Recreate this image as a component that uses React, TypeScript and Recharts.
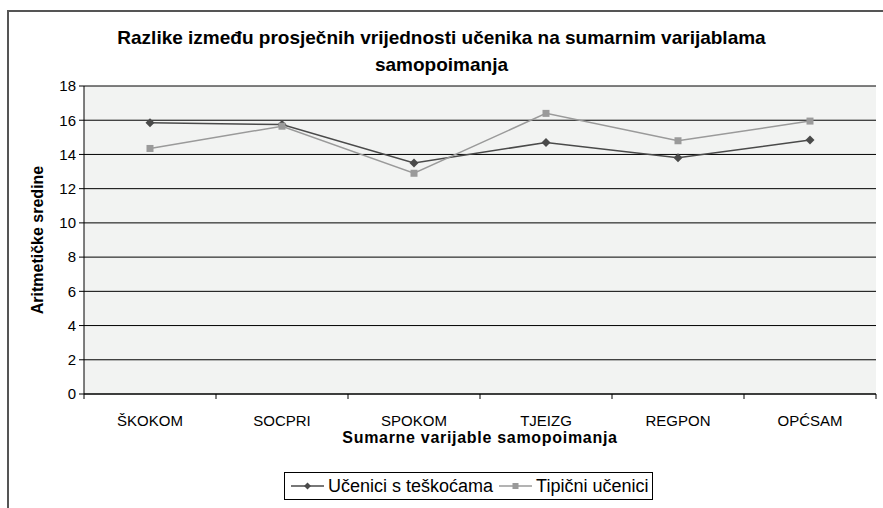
import React from "react";
import {
  LineChart,
  Line,
  XAxis,
  YAxis,
  CartesianGrid,
  Legend,
  Label,
} from "recharts";

const categories = ["ŠKOKOM", "SOCPRI", "SPOKOM", "TJEIZG", "REGPON", "OPĆSAM"];
const ucenicisTeskocama = [15.85, 15.75, 13.5, 14.7, 13.8, 14.85];
const tipicniUcenici = [14.35, 15.65, 12.9, 16.4, 14.8, 15.95];
const yTicks = [0, 2, 4, 6, 8, 10, 12, 14, 16, 18];

const SERIES1 = "Učenici s teškoćama";
const SERIES2 = "Tipični učenici";
const COLOR1 = "#4a4a4a";
const COLOR2 = "#9a9a9a";
const FONT = "'Liberation Sans', Arial, sans-serif";

const data = categories.map((name, i) => ({
  name,
  s1: ucenicisTeskocama[i],
  s2: tipicniUcenici[i],
}));

const Diamond = (props: any) => {
  const { cx, cy } = props;
  if (cx == null || cy == null) return null;
  return (
    <polygon
      points={`${cx},${cy - 4.5} ${cx + 4.5},${cy} ${cx},${cy + 4.5} ${cx - 4.5},${cy}`}
      fill={COLOR1}
    />
  );
};

const Square = (props: any) => {
  const { cx, cy } = props;
  if (cx == null || cy == null) return null;
  return <rect x={cx - 3.5} y={cy - 3.5} width={7} height={7} fill={COLOR2} />;
};

// category label + tick marks on the band boundaries (Excel style)
const XTick = (props: any) => {
  const { x, y, payload, index } = props;
  const off = payload.offset || 0;
  const axisY = y - 21;
  return (
    <g>
      <line x1={x - off} y1={axisY} x2={x - off} y2={axisY + 5} stroke="#000" />
      {index === categories.length - 1 && (
        <line x1={x + off} y1={axisY} x2={x + off} y2={axisY + 5} stroke="#000" />
      )}
      <text
        x={x}
        y={y}
        dy="0.71em"
        textAnchor="middle"
        fontSize={15}
        fontFamily={FONT}
        fill="#000"
      >
        {payload.value}
      </text>
    </g>
  );
};

const LegendMark = ({ color, square }: { color: string; square?: boolean }) => (
  <svg width={33} height={12} style={{ margin: "0 4px 0 2px" }}>
    <line x1={0} y1={6} x2={33} y2={6} stroke={color} strokeWidth={1.5} />
    {square ? (
      <rect x={13.5} y={3} width={6} height={6} fill={color} />
    ) : (
      <polygon points="16.5,2.5 20,6 16.5,9.5 13,6" fill={color} />
    )}
  </svg>
);

const LegendBox = () => (
  <div
    style={{
      display: "flex",
      alignItems: "center",
      border: "1px solid #000",
      background: "#fff",
      height: 26,
      padding: "0 4px 0 4px",
      fontFamily: FONT,
      fontSize: 18,
      whiteSpace: "nowrap",
      boxSizing: "content-box",
    }}
  >
    <LegendMark color={COLOR1} />
    <span style={{ marginRight: 4 }}>{SERIES1}</span>
    <LegendMark color={COLOR2} square />
    <span>{SERIES2}</span>
  </div>
);

export default function App() {
  return (
    <div
      style={{
        position: "absolute",
        left: 0,
        top: 0,
        width: 883,
        height: 508,
        background: "#fff",
        overflow: "hidden",
        fontFamily: FONT,
      }}
    >
      <div
        style={{
          position: "absolute",
          left: 7,
          top: 10,
          width: 900,
          height: 520,
          borderLeft: "2px solid #555",
          borderTop: "2px solid #555",
        }}
      />
      <div
        style={{
          position: "absolute",
          left: 0,
          top: 24,
          width: 883,
          textAlign: "center",
          fontWeight: "bold",
          fontSize: 19,
          lineHeight: "27px",
          color: "#000",
        }}
      >
        Razlike između prosječnih vrijednosti učenika na sumarnim varijablama
        <br />
        samopoimanja
      </div>
      <div style={{ position: "absolute", left: 0, top: 0 }}>
        <LineChart
          width={883}
          height={508}
          data={data}
          margin={{ top: 86, right: 7, bottom: 0, left: 0 }}
        >
          <CartesianGrid
            vertical={false}
            stroke="#000"
            fill="#f2f3f2"
            fillOpacity={1}
          />
          <XAxis
            dataKey="name"
            scale="band"
            height={114}
            tickLine={false}
            axisLine={{ stroke: "#000" }}
            tick={<XTick />}
            tickMargin={15}
            interval={0}
          >
            <Label
              value="Sumarne varijable samopoimanja"
              position="insideTop"
              offset={38}
              fontSize={16}
              fontWeight="bold"
              fontFamily={FONT}
              letterSpacing={0.7}
              fill="#000"
            />
          </XAxis>
          <YAxis
            width={84}
            domain={[0, 18]}
            ticks={yTicks}
            interval={0}
            tickSize={5}
            tickMargin={3}
            tickLine={{ stroke: "#000" }}
            axisLine={{ stroke: "#000" }}
            tick={{ fontSize: 15, fill: "#000", fontFamily: FONT }}
          >
            <Label
              content={(p: any) => {
                const vb = p.viewBox;
                const cx = vb.x + 37;
                const cy = vb.y + vb.height / 2;
                return (
                  <text
                    x={cx}
                    y={cy}
                    transform={`rotate(-90 ${cx} ${cy})`}
                    textAnchor="middle"
                    dominantBaseline="central"
                    fontSize={16}
                    fontWeight="bold"
                    fontFamily={FONT}
                    fill="#000"
                  >
                    Aritmetičke sredine
                  </text>
                );
              }}
            />
          </YAxis>
          <Legend
            layout="horizontal"
            verticalAlign="middle"
            align="center"
            content={<LegendBox />}
            wrapperStyle={{ top: 472, left: 284, width: "auto", height: "auto" }}
          />
          <Line
            name={SERIES1}
            dataKey="s1"
            stroke={COLOR1}
            strokeWidth={1.5}
            dot={<Diamond />}
            activeDot={false}
            isAnimationActive={false}
          />
          <Line
            name={SERIES2}
            dataKey="s2"
            stroke={COLOR2}
            strokeWidth={1.5}
            dot={<Square />}
            activeDot={false}
            isAnimationActive={false}
          />
        </LineChart>
      </div>
    </div>
  );
}
